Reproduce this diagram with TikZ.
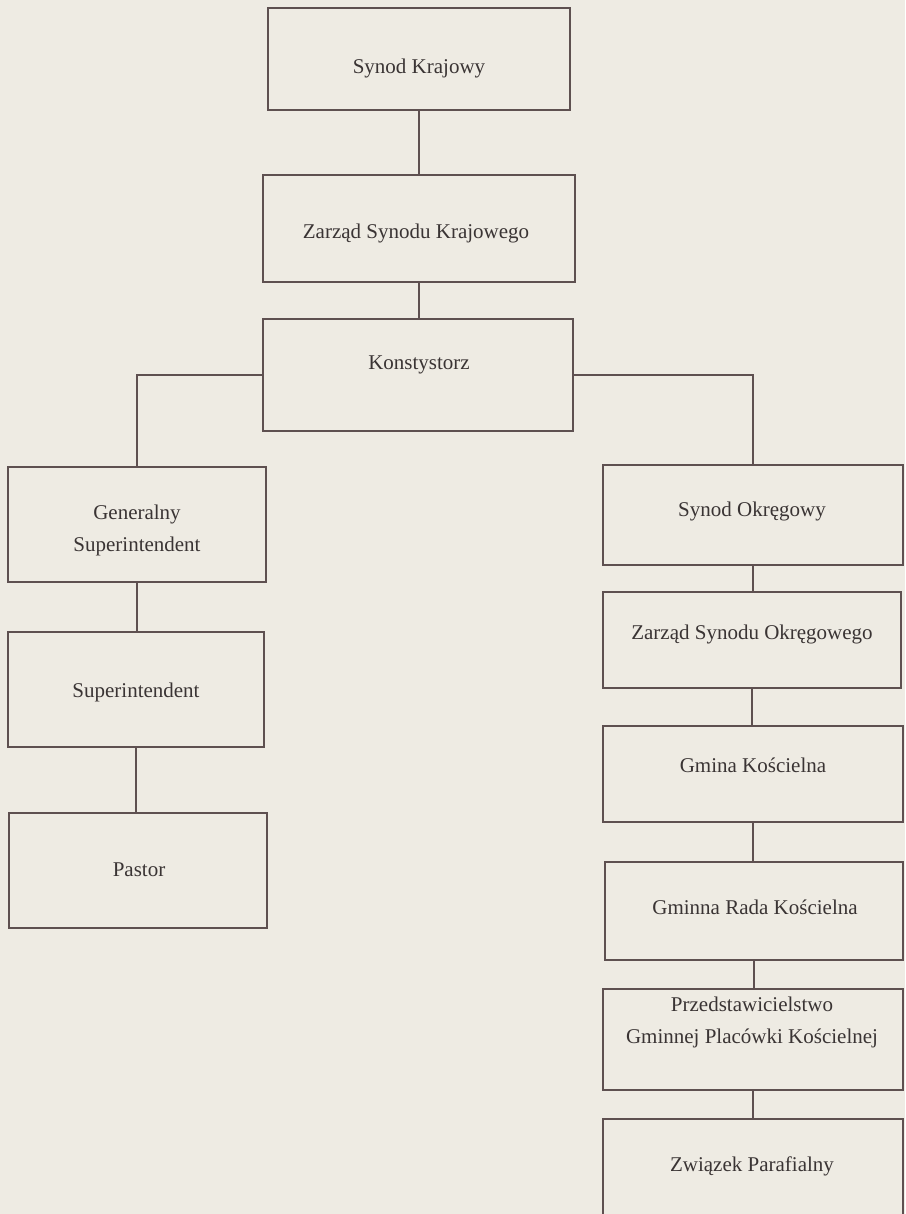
\documentclass[tikz,border=0pt]{standalone}
\usepackage{fontspec}
\setmainfont{Liberation Serif}
\definecolor{bg}{HTML}{EEEBE3}
\definecolor{ln}{HTML}{5E5050}
\definecolor{tx}{HTML}{3A3434}
\begin{document}
\begin{tikzpicture}[x=1pt,y=-1pt,
  box/.style={draw=ln, line width=1.5pt, rectangle, inner sep=0pt},
  lbl/.style={text=tx, font=\fontsize{21}{32}\selectfont, inner sep=0pt, align=center},
  conn/.style={draw=ln, line width=1.6pt}]
\useasboundingbox[fill=bg] (0,0) rectangle (905,1214);
\clip (0,0) rectangle (905,1214);
% top column
\node[box, minimum width=302pt, minimum height=102pt] (b1) at (419,59) {};
\node[box, minimum width=312pt, minimum height=107pt] (b2) at (419,228.5) {};
\node[box, minimum width=310pt, minimum height=112pt] (b3) at (418,375) {};
% left column
\node[box, minimum width=258pt, minimum height=115pt] (g1) at (137,524.5) {};
\node[box, minimum width=256pt, minimum height=115pt] (g2) at (136,689.5) {};
\node[box, minimum width=258pt, minimum height=115pt] (g3) at (138,870.5) {};
% right column
\node[box, minimum width=300pt, minimum height=100pt] (r1) at (753,515) {};
\node[box, minimum width=298pt, minimum height=96pt] (r2) at (752,640) {};
\node[box, minimum width=300pt, minimum height=96pt] (r3) at (753,774) {};
\node[box, minimum width=298pt, minimum height=98pt] (r4) at (754,911) {};
\node[box, minimum width=300pt, minimum height=101pt] (r5) at (753,1039.5) {};
\node[box, minimum width=300pt, minimum height=122pt] (r6) at (753,1180) {};
% labels
\node[lbl, anchor=base] (t1) at (419,74) {Synod Krajowy};
\node[lbl, anchor=base] (t2) at (416,239) {Zarząd Synodu Krajowego};
\node[lbl, anchor=base] (t3) at (419,369) {Konstystorz};
\node[lbl] (tg1) at (137,530) {Generalny\\Superintendent};
\node[lbl, anchor=base] (tg2) at (136,697) {Superintendent};
\node[lbl, anchor=base] (tg3) at (139,876) {Pastor};
\node[lbl, anchor=base] (tr1) at (752,516) {Synod Okręgowy};
\node[lbl, anchor=base] (tr2) at (752,639) {Zarząd Synodu Okręgowego};
\node[lbl, anchor=base] (tr3) at (753,772) {Gmina Kościelna};
\node[lbl, anchor=base] (tr4) at (755,914) {Gminna Rada Kościelna};
\node[lbl] (tr5) at (752,1022) {Przedstawicielstwo\\Gminnej Placówki Kościelnej};
\node[lbl, anchor=base] (tr6) at (752,1171) {Związek Parafialny};
% connectors
\draw[conn] (b1.south) -- (b1.south |- b2.north);
\draw[conn] (b2.south) -- (b2.south |- b3.north);
\draw[conn] (b3.west) -| (g1.north);
\draw[conn] (b3.east) -| (r1.north);
\draw[conn] (g1.south) -- (g1.south |- g2.north);
\draw[conn] (g2.south) -- (g2.south |- g3.north);
\draw[conn] (r1.south) -- (r1.south |- r2.north);
\draw[conn] (r2.south) -- (r2.south |- r3.north);
\draw[conn] (r3.south) -- (r3.south |- r4.north);
\draw[conn] (r4.south) -- (r4.south |- r5.north);
\draw[conn] (r5.south) -- (r5.south |- r6.north);
\end{tikzpicture}
\end{document}
